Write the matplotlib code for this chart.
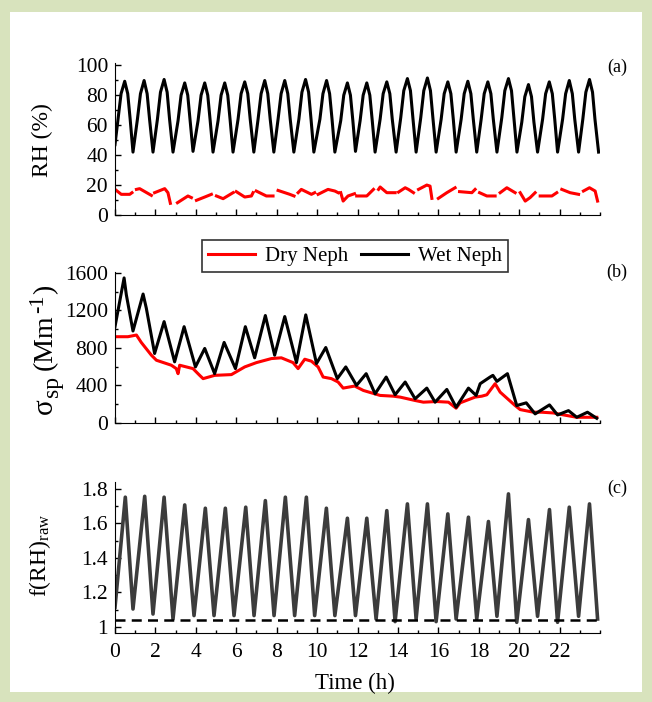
import numpy as np
import matplotlib
matplotlib.use("Agg")
import matplotlib.pyplot as plt
from matplotlib.patches import Rectangle

plt.rcParams['font.family'] = ['Liberation Serif', 'DejaVu Serif']
plt.rcParams['mathtext.fontset'] = 'custom'
plt.rcParams['mathtext.rm'] = 'Liberation Serif'
plt.rcParams['mathtext.it'] = 'Liberation Serif:italic'

# ---- panel (a): RH, wet neph (vertices: trough, two points
# on the rise, peak, two points on the fall)
rh_wet_t = [0, 0.15, 0.30, 0.48, 0.63, 0.75, 0.89,
            1.11, 1.26, 1.44, 1.59, 1.71, 1.88,
            2.10, 2.25, 2.43, 2.58, 2.70, 2.87,
            3.12, 3.27, 3.45, 3.60, 3.72, 3.86,
            4.11, 4.26, 4.44, 4.59, 4.71, 4.85,
            5.10, 5.25, 5.43, 5.58, 5.70, 5.84,
            6.09, 6.24, 6.42, 6.57, 6.69, 6.87,
            7.08, 7.23, 7.41, 7.56, 7.68, 7.86,
            8.07, 8.22, 8.40, 8.55, 8.67, 8.85,
            9.10, 9.25, 9.43, 9.58, 9.70, 9.84,
            10.14, 10.29, 10.47, 10.62, 10.74, 10.88,
            11.17, 11.32, 11.50, 11.65, 11.77, 11.90,
            12.13, 12.28, 12.46, 12.61, 12.73, 12.87,
            13.12, 13.27, 13.45, 13.60, 13.72, 13.91,
            14.14, 14.29, 14.47, 14.62, 14.74, 14.90,
            15.13, 15.28, 15.46, 15.61, 15.73, 15.89,
            16.14, 16.29, 16.47, 16.62, 16.74, 16.88,
            17.13, 17.28, 17.46, 17.61, 17.73, 17.90,
            18.12, 18.27, 18.45, 18.60, 18.72, 18.90,
            19.14, 19.29, 19.47, 19.62, 19.74, 19.89,
            20.13, 20.28, 20.46, 20.61, 20.73, 20.91,
            21.16, 21.31, 21.49, 21.64, 21.76, 21.90,
            22.15, 22.30, 22.48, 22.63, 22.75, 22.94,
            23.15, 23.30, 23.48, 23.63, 23.75, 23.93]
rh_wet = [47, 64, 81, 89.3, 81, 64, 42,
          64, 81, 89.8, 81, 64, 42,
          64, 82, 90.5, 82, 64, 42,
          63, 80, 88.2, 80, 63, 42.5,
          63, 80, 88.2, 80, 63, 42,
          63, 80, 88.2, 80, 63, 42,
          64, 81, 88.9, 81, 64, 42,
          64, 81, 89.8, 81, 64, 42,
          64, 81, 89.8, 81, 64, 42,
          64, 82, 90.5, 82, 64, 42,
          64, 81, 89.8, 81, 64, 42,
          63, 80, 88.2, 80, 63, 42.5,
          63, 80, 88.2, 80, 63, 42,
          64, 81, 88.9, 81, 64, 42,
          65, 83, 91.1, 83, 65, 42,
          65, 83, 91.5, 83, 65, 42,
          64, 81, 88.9, 81, 64, 42,
          64, 81, 89.3, 81, 64, 42,
          64, 81, 88.9, 81, 64, 42,
          65, 83, 91.1, 83, 65, 42,
          62, 79, 87.1, 79, 62, 42,
          64, 81, 88.9, 81, 64, 42,
          64, 81, 89.8, 81, 64, 42,
          64, 82, 90.5, 82, 64, 42]

# panel (a): RH, dry neph (segments separated by nan gaps)
rh_dry_t = [0, 0.31, 0.73, 0.84, np.nan,
            1.06, 1.22, 1.80, np.nan,
            1.96, 2.46, 2.62, 2.74, np.nan,
            3.09, 3.61, 3.78, np.nan,
            4.03, 4.44, 4.77, np.nan,
            5.02, 5.35, 5.84, np.nan,
            6.00, 6.42, 6.75, 6.83, np.nan,
            6.99, 7.49, 7.82, np.nan,
            8.07, 8.65, 8.86, np.nan,
            9.06, 9.22, 9.72, 9.88, np.nan,
            10.05, 10.54, 10.88, 11.04, np.nan,
            11.17, 11.29, 11.53, 11.85, np.nan,
            11.96, 12.46, 12.79, np.nan,
            13.04, 13.12, 13.45, 13.86, np.nan,
            14.03, 14.36, 14.52, 14.77, np.nan,
            15.02, 15.43, 15.59, 15.68, np.nan,
            16.00, 16.42, 16.83, np.nan,
            17.05, 17.66, 17.82, np.nan,
            18.04, 18.40, 18.81, np.nan,
            19.06, 19.39, 19.80, np.nan,
            20.05, 20.30, 20.54, 20.79, np.nan,
            21.04, 21.62, 21.86, np.nan,
            22.11, 22.52, 22.94, np.nan,
            23.18, 23.48, 23.76, 23.88]
rh_dry = [17.1, 13.8, 13.8, 14.9, np.nan,
          17.1, 17.6, 13.1, np.nan,
          14.9, 17.6, 14.9, 7.8, np.nan,
          8.2, 12.7, 11.6, np.nan,
          9.8, 12.0, 13.8, np.nan,
          12.7, 10.9, 14.9, np.nan,
          15.6, 12.0, 12.7, 14.9, np.nan,
          16.0, 12.7, 12.7, np.nan,
          16.4, 13.8, 12.7, np.nan,
          14.9, 17.1, 13.8, 14.9, np.nan,
          13.8, 17.1, 16.0, 14.9, np.nan,
          14.9, 9.3, 12.7, 14.2, np.nan,
          12.7, 12.7, 17.1, np.nan,
          17.1, 18.7, 14.9, 14.9, np.nan,
          15.3, 18.2, 17.1, 14.9, np.nan,
          17.1, 20.0, 19.3, 11.1, np.nan,
          11.1, 14.9, 18.2, np.nan,
          15.6, 14.9, 17.1, np.nan,
          14.9, 12.7, 12.7, np.nan,
          14.9, 18.2, 14.9, np.nan,
          14.9, 9.3, 11.6, 14.9, np.nan,
          12.7, 12.7, 14.9, np.nan,
          17.1, 14.9, 13.8, np.nan,
          16.0, 18.2, 16.0, 9.3]

# ---- panel (b): scattering coefficient
sp_wet_t = [0, 0.45, 0.56, 0.89, 1.39, 1.55, 1.96, 2.43, 2.95, 3.42, 3.98, 4.44, 4.93,
            5.40, 5.96, 6.45, 6.91, 7.44, 7.90, 8.40, 8.98, 9.44, 9.97, 10.43, 11.00,
            11.42, 11.95, 12.43, 12.87, 13.42, 13.86, 14.36, 14.85, 15.43, 15.84, 16.42,
            16.88, 17.49, 17.87, 18.07, 18.56, 18.70, 18.90, 19.42, 19.88, 20.35, 20.79,
            21.50, 21.90, 22.44, 22.85, 23.38, 23.84]
sp_wet = [1027, 1547, 1368, 981, 1375, 1224, 741, 1081, 652, 1027, 598, 795, 526,
          859, 580, 1027, 695, 1146, 723, 1135, 644, 1153, 634, 805, 473,
          598, 401, 526, 311, 490, 301, 437, 258, 372, 222, 358,
          168, 372, 294, 419, 490, 508, 444, 526, 186, 215, 97,
          193, 86, 132, 61, 115, 50]
sp_dry_t = [0, 0.64, 1.06, 1.30, 1.80, 2.05, 2.79, 3.03, 3.12, 3.20, 3.86, 4.19, 4.36,
            4.93, 5.76, 6.42, 7.00, 7.74, 8.23, 8.81, 9.06, 9.39, 9.72, 10.05, 10.30,
            10.71, 11.04, 11.29, 11.86, 12.29, 13.12, 13.78, 14.11, 14.85, 15.26, 15.92,
            16.50, 16.88, 17.08, 17.82, 18.15, 18.40, 18.81, 19.06, 19.80, 20.05, 20.71,
            21.12, 21.70, 22.20, 22.85, 23.84]
sp_dry = [920, 920, 938, 859, 723, 669, 616, 580, 526, 616, 580, 508, 473,
          508, 516, 598, 644, 687, 695, 644, 580, 680, 659, 598, 490,
          473, 437, 372, 394, 347, 294, 286, 276, 240, 222, 229,
          222, 158, 215, 276, 286, 301, 419, 329, 186, 143, 115,
          115, 107, 86, 61, 61]

# ---- panel (c): f(RH) raw
frh_start = 1.114
frh_peak_t = [0.51, 1.47, 2.43, 3.45, 4.47, 5.46, 6.47, 7.44, 8.43, 9.47, 10.46, 11.50,
              12.46, 13.45, 14.47, 15.46, 16.47, 17.49, 18.48, 19.47, 20.46, 21.50, 22.48, 23.48]
frh_peak = [1.752, 1.757, 1.752, 1.707, 1.688, 1.688, 1.694, 1.732, 1.752, 1.752, 1.688, 1.630,
            1.630, 1.674, 1.713, 1.713, 1.655, 1.636, 1.611, 1.771, 1.622, 1.680, 1.694, 1.713]
frh_trough_t = [0.89, 1.88, 2.87, 3.91, 4.90, 5.89, 6.88, 7.87, 8.89, 9.88, 10.88, 11.90,
                12.92, 13.86, 14.90, 15.89, 16.88, 17.90, 18.90, 19.88, 20.91, 21.90, 22.94, 23.88]
frh_trough = [1.104, 1.075, 1.046, 1.066, 1.066, 1.066, 1.066, 1.066, 1.066, 1.066, 1.066, 1.066,
              1.046, 1.031, 1.046, 1.031, 1.046, 1.046, 1.062, 1.027, 1.062, 1.027, 1.062, 1.046]
frh_ref = 1.04

labels = ['Dry Neph', 'Wet Neph']


def interleave(start, pt, pv, tt, tv):
    t = [0.0]
    v = [start]
    for a, b, c, d in zip(pt, pv, tt, tv):
        t += [a, c]
        v += [b, d]
    return t, v


W, H = 652, 702
fig = plt.figure(figsize=(W / 100, H / 100), dpi=100, facecolor='#d8e3bd')
fig.patches.append(Rectangle((10 / W, 10 / H), 632 / W, 680 / H, transform=fig.transFigure,
                             facecolor='white', edgecolor='none', zorder=-10))


def px_axes(top, bottom):
    ax = fig.add_axes([115 / W, (H - bottom) / H, 485 / W, (bottom - top) / H])
    ax.set_zorder(2)
    return ax


ax1 = px_axes(63, 215)
ax2 = px_axes(272, 423)
ax3 = px_axes(482, 633)

for ax in (ax1, ax2, ax3):
    ax.set_facecolor('none')
    ax.spines['top'].set_visible(False)
    ax.spines['right'].set_visible(False)
    ax.set_xlim(0, 24)
    ax.set_xticks(np.arange(0, 23, 2))
    ax.set_xticks(np.arange(0, 25, 1), minor=True)
    ax.tick_params(which='major', direction='in', length=4, width=1, labelsize=15.5, pad=5)
    ax.tick_params(which='minor', direction='in', length=2.5, width=1)

# (a)
ax1.plot(rh_wet_t, rh_wet, color='black', lw=2.2)
ax1.plot(rh_dry_t, rh_dry, color='red', lw=2.2)
ax1.set_ylim(0, 101.5)
ax1.set_yticks([0, 20, 40, 60, 80, 100])
ax1.set_yticks(np.arange(0, 101, 10), minor=True)
ax1.tick_params(axis='x', labelbottom=False)

# (b)
l1, = ax2.plot(sp_dry_t, sp_dry, color='red', lw=2.2)
l2, = ax2.plot(sp_wet_t, sp_wet, color='black', lw=2.2)
ax2.set_ylim(0, 1610)
ax2.set_yticks([0, 400, 800, 1200, 1600])
ax2.set_yticks(np.arange(0, 1601, 200), minor=True)
ax2.tick_params(axis='x', labelbottom=False)
leg = ax2.legend([l1, l2], labels, ncol=2, loc='center', bbox_to_anchor=(0.495, 1.105),
                 fontsize=15, frameon=True, fancybox=False, edgecolor='black',
                 handlelength=2.25, columnspacing=0.6, handletextpad=0.5, borderpad=0.3)
leg.get_frame().set_linewidth(1.2)

# (c)
t, v = interleave(frh_start, frh_peak_t, frh_peak, frh_trough_t, frh_trough)
ax3.plot(t, v, color='#3c3c3c', lw=2.6)
ax3.axhline(frh_ref, color='black', lw=1.8, ls=(0, (4, 2.5)))
ax3.set_ylim(0.965, 1.84)
ax3.set_yticks([1.0, 1.2, 1.4, 1.6, 1.8])
ax3.set_yticklabels(['1', '1.2', '1.4', '1.6', '1.8'])
ax3.set_yticks(np.arange(1.0, 1.81, 0.1), minor=True)
ax3.tick_params(axis='x', which='major', pad=7)

# axis labels and panel letters
fig.text(42 / W, 1 - 140 / H, 'RH (%)', rotation=90, ha='center', va='center', fontsize=17)
fig.text(40 / W, 1 - 555 / H, r'f(RH)$_{\rm raw}$', rotation=90, ha='center', va='center',
         fontsize=17)
fig.text(355 / W, 1 - 683 / H, 'Time (h)', ha='center', va='center', fontsize=16.5)
for letter, y in [('(a)', 67), ('(b)', 272), ('(c)', 488)]:
    fig.text(617 / W, 1 - y / H, letter, ha='center', va='center', fontsize=13)

# sigma_sp label built from pieces so sub/superscripts keep a larger size
renderer = fig.canvas.get_renderer()
pieces = [('σ', 21, 0), ('sp', 17, 6), ('(Mm', 20, 0), ('-1', 16, -9), (')', 20, 0)]
gaps = [0, 1, 6, 1, 1]
base_x = 52
texts = []
y = 0.0
for (s, size, dx), g in zip(pieces, gaps):
    y += g
    txt = fig.text((base_x + dx) / W, 0, s, rotation=90, rotation_mode='anchor',
                   ha='left', va='baseline', fontsize=size)
    texts.append((txt, y))
    y += txt.get_window_extent(renderer).height
start = (H - 349) - y / 2
for txt, off in texts:
    txt.set_y((start + off) / H)

fig.savefig('out.png', dpi=100, facecolor=fig.get_facecolor())
